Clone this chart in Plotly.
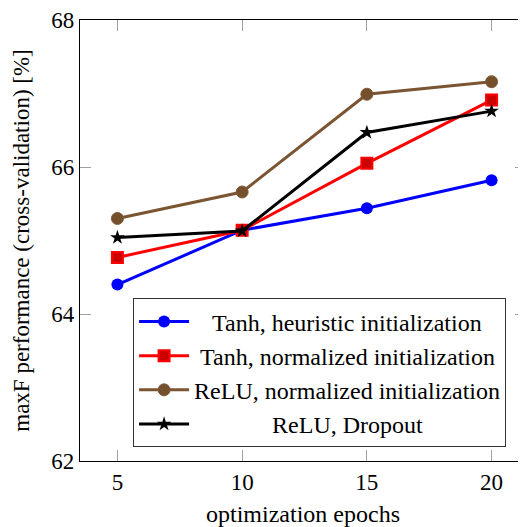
import plotly.graph_objects as go

epochs = [5, 10, 15, 20]
tanh_heuristic = [64.40, 65.14, 65.44, 65.82]
tanh_normalized = [64.77, 65.14, 66.05, 66.91]
relu_normalized = [65.30, 65.66, 66.99, 67.16]
relu_dropout = [65.04, 65.13, 66.47, 66.76]

names = [
    "\u00a0" * 3 + "Tanh, heuristic initialization",
    "\u00a0" + "Tanh, normalized initialization",
    "ReLU, normalized initialization",
    "\u00a0" * 13 + "ReLU, Dropout",
]
y_ticks = [62, 64, 66, 68]
x_ticks = [5, 10, 15, 20]

FONT = "'Liberation Serif', 'Times New Roman', 'DejaVu Serif', serif"
TXT = 24
TICK = 23

fig = go.Figure()
fig.add_trace(go.Scatter(x=epochs, y=tanh_heuristic, name=names[0], mode="lines+markers",
                         line=dict(color="#0000FF", width=3),
                         marker=dict(symbol="circle", size=12, color="#0000FF")))
fig.add_trace(go.Scatter(x=epochs, y=tanh_normalized, name=names[1], mode="lines+markers",
                         line=dict(color="#FF0000", width=3),
                         marker=dict(symbol="square", size=11, color="#CC0000",
                                     line=dict(color="#FF0000", width=2))))
fig.add_trace(go.Scatter(x=epochs, y=relu_normalized, name=names[2], mode="lines+markers",
                         line=dict(color="#7B5532", width=3),
                         marker=dict(symbol="circle", size=12, color="#74502C",
                                     line=dict(color="#7F5A36", width=1))))
fig.add_trace(go.Scatter(x=epochs, y=relu_dropout, name=names[3], mode="lines+markers",
                         line=dict(color="#000000", width=3),
                         marker=dict(symbol="star", size=11, color="#000000")))
# invisible trace to carry the right-hand tick axis
fig.add_trace(go.Scatter(x=[epochs[0]], y=[y_ticks[0]], yaxis="y2", mode="markers",
                         marker=dict(opacity=0), showlegend=False, hoverinfo="skip"))

fig.update_layout(
    width=518, height=519,
    margin=dict(l=72, r=0, t=6, b=66),
    paper_bgcolor="white", plot_bgcolor="white",
    font=dict(family=FONT, size=TXT, color="black"),
    xaxis=dict(range=[3.5, 21.38], tickvals=x_ticks, ticks="inside", ticklen=11,
               tickcolor="#A0A0A0", tickwidth=1, showline=True, linecolor="black",
               linewidth=1.3, mirror="ticks", showgrid=False, zeroline=False,
               title=dict(text="optimization epochs", font=dict(size=TXT, family=FONT), standoff=12),
               tickfont=dict(size=TICK, family=FONT), ticklabeloverflow="allow"),
    yaxis=dict(range=[62, 68], tickvals=y_ticks, ticks="inside", ticklen=11,
               tickcolor="#A0A0A0", tickwidth=1, showline=True, linecolor="black",
               linewidth=1.3, mirror=False, showgrid=False, zeroline=False,
               title=dict(text="\u00a0\u00a0maxF performance (cross-validation) [%]",
                          font=dict(size=23, family=FONT), standoff=15),
               tickfont=dict(size=TICK, family=FONT), ticklabeloverflow="allow"),
    yaxis2=dict(range=[62, 68], tickvals=y_ticks, overlaying="y", side="right",
                ticks="inside", ticklen=11, tickcolor="#A0A0A0", tickwidth=1,
                showticklabels=False, showline=False, showgrid=False, zeroline=False),
    legend=dict(x=0.119, y=0.031, xanchor="left", yanchor="bottom",
                bgcolor="white", bordercolor="#333333", borderwidth=1,
                font=dict(size=TXT, family=FONT), tracegroupgap=0, itemwidth=50),
    showlegend=True,
)

fig.write_html("out.html")
